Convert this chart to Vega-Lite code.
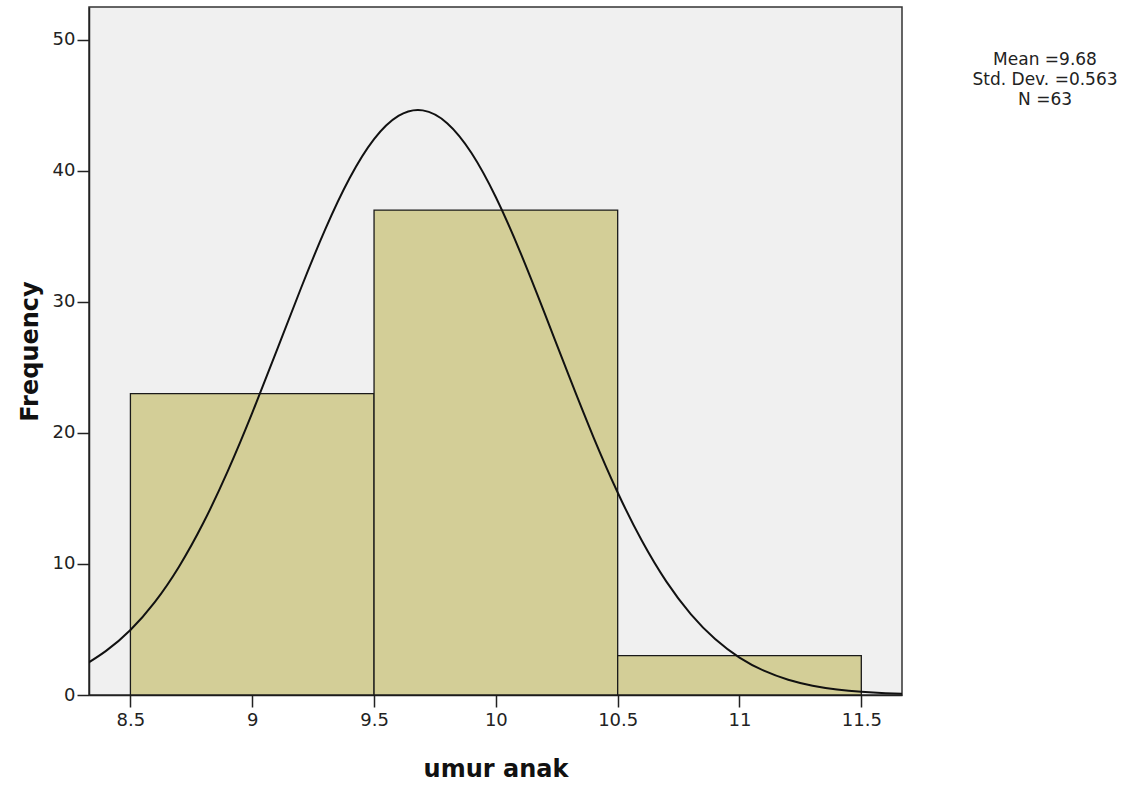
{
  "$schema": "https://vega.github.io/schema/vega-lite/v6.json",
  "autosize": "none",
  "width": 813,
  "height": 688,
  "padding": {"left": 89, "top": 7, "right": 229, "bottom": 103},
  "background": "white",
  "config": {
    "view": {"fill": "#f0f0f0", "stroke": "#333333", "strokeWidth": 1.5},
    "axis": {
      "labelFont": "DejaVu Sans",
      "labelFontSize": 18,
      "labelColor": "#222222",
      "titleFont": "DejaVu Sans",
      "titleFontSize": 24,
      "titleFontWeight": "bold",
      "titleColor": "#111111",
      "domainColor": "#222222",
      "domainWidth": 1.5,
      "tickColor": "#222222",
      "tickWidth": 1.5,
      "tickSize": 12,
      "grid": false
    }
  },
  "datasets": {
    "bins": [
      {"lo": 8.5, "hi": 9.5, "count": 23},
      {"lo": 9.5, "hi": 10.5, "count": 37},
      {"lo": 10.5, "hi": 11.5, "count": 3}
    ],
    "curve": [
      {"x": 8.3, "f": 2.15},
      {"x": 8.4, "f": 3.367},
      {"x": 8.5, "f": 4.964},
      {"x": 8.6, "f": 7.09},
      {"x": 8.7, "f": 9.813},
      {"x": 8.8, "f": 13.158},
      {"x": 8.9, "f": 17.097},
      {"x": 9.0, "f": 21.525},
      {"x": 9.1, "f": 26.258},
      {"x": 9.2, "f": 31.039},
      {"x": 9.3, "f": 35.546},
      {"x": 9.4, "f": 39.447},
      {"x": 9.5, "f": 42.416},
      {"x": 9.6, "f": 44.191},
      {"x": 9.7, "f": 44.612},
      {"x": 9.8, "f": 43.638},
      {"x": 9.9, "f": 41.36},
      {"x": 10.0, "f": 37.982},
      {"x": 10.1, "f": 33.797},
      {"x": 10.2, "f": 29.139},
      {"x": 10.3, "f": 24.344},
      {"x": 10.4, "f": 19.704},
      {"x": 10.5, "f": 15.455},
      {"x": 10.6, "f": 11.745},
      {"x": 10.7, "f": 8.649},
      {"x": 10.8, "f": 6.171},
      {"x": 10.9, "f": 4.266},
      {"x": 11.0, "f": 2.857},
      {"x": 11.1, "f": 1.854},
      {"x": 11.2, "f": 1.166},
      {"x": 11.3, "f": 0.711},
      {"x": 11.4, "f": 0.42},
      {"x": 11.5, "f": 0.24},
      {"x": 11.6, "f": 0.133},
      {"x": 11.7, "f": 0.071}
    ],
    "stats": [
      {"label": "Mean =9.68", "x": 12.254, "y": 48.46},
      {"label": "Std. Dev. =0.563", "x": 12.254, "y": 46.94},
      {"label": "N =63", "x": 12.254, "y": 45.41}
    ]
  },
  "layer": [
    {
      "data": {"name": "bins"},
      "mark": {"type": "rect", "fill": "#d3ce97", "stroke": "#1a1a1a", "strokeWidth": 1.3},
      "encoding": {
        "x": {
          "field": "lo", "type": "quantitative",
          "scale": {"domain": [8.33, 11.667], "nice": false, "zero": false},
          "axis": {"values": [8.5, 9, 9.5, 10, 10.5, 11, 11.5], "format": "~g", "title": "umur anak", "titlePadding": 28, "labelPadding": 4}
        },
        "x2": {"field": "hi"},
        "y": {
          "field": "count", "type": "quantitative",
          "scale": {"domain": [0, 52.5], "nice": false},
          "axis": {"values": [0, 10, 20, 30, 40, 50], "title": "Frequency", "titlePadding": 10, "labelPadding": 2}
        },
        "y2": {"datum": 0}
      }
    },
    {
      "data": {"name": "curve"},
      "mark": {"type": "line", "color": "#111111", "strokeWidth": 2, "interpolate": "natural", "clip": true},
      "encoding": {
        "x": {"field": "x", "type": "quantitative"},
        "y": {"field": "f", "type": "quantitative"}
      }
    },
    {
      "data": {"name": "stats"},
      "mark": {"type": "text", "font": "DejaVu Sans", "fontSize": 17, "color": "#222222", "align": "center", "baseline": "middle"},
      "encoding": {
        "x": {"field": "x", "type": "quantitative"},
        "y": {"field": "y", "type": "quantitative"},
        "text": {"field": "label"}
      }
    }
  ]
}
